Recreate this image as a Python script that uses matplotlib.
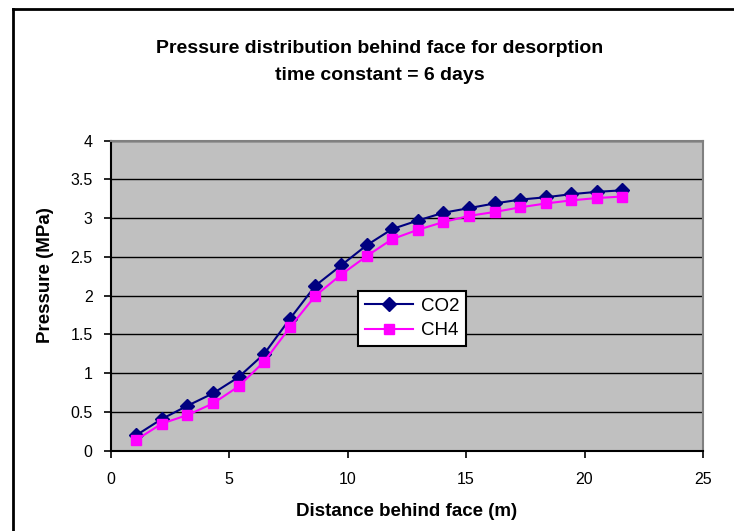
import matplotlib
matplotlib.use("Agg")
import matplotlib.pyplot as plt
from matplotlib.lines import Line2D

plt.rcParams["font.family"] = ["Liberation Sans", "DejaVu Sans"]

# distance behind face (m)
distance = [1.08, 2.16, 3.24, 4.32, 5.40, 6.48, 7.56, 8.64, 9.72, 10.80,
            11.88, 12.96, 14.04, 15.12, 16.20, 17.28, 18.36, 19.44, 20.52, 21.60]
# pressure (MPa)
co2 = [0.20, 0.41, 0.58, 0.74, 0.95, 1.25, 1.70, 2.13, 2.39, 2.65,
       2.86, 2.97, 3.07, 3.13, 3.19, 3.24, 3.27, 3.31, 3.34, 3.36]
ch4 = [0.14, 0.35, 0.46, 0.61, 0.83, 1.15, 1.59, 2.00, 2.27, 2.51,
       2.73, 2.85, 2.95, 3.03, 3.08, 3.14, 3.19, 3.23, 3.26, 3.28]

W, H = 734, 531
fig = plt.figure(figsize=(W / 100, H / 100), dpi=100)

# outer chart border (only left and top visible, cut off at right/bottom)
fig.add_artist(Line2D([13 / W, 13 / W], [0, 1 - 9 / H], transform=fig.transFigure,
                      color="black", lw=2))
fig.add_artist(Line2D([13 / W, 1], [1 - 9 / H, 1 - 9 / H], transform=fig.transFigure,
                      color="black", lw=2))

left, right, top, bottom = 110.7, 703, 140.7, 450.7
ax = fig.add_axes([left / W, 1 - bottom / H, (right - left) / W, (bottom - top) / H])
ax.set_facecolor("#C0C0C0")

ax.plot(distance, co2, color="#000080", lw=1.5, marker="D", ms=7.5,
        mfc="#000080", mec="#000080", label="CO2", zorder=3)
ax.plot(distance, ch4, color="#FF00FF", lw=1.5, marker="s", ms=7.5,
        mfc="#FF00FF", mec="#FF00FF", label="CH4", zorder=3)

ax.set_xlim(0, 25)
ax.set_ylim(0, 4)
ax.set_xticks([0, 5, 10, 15, 20, 25])
ax.set_yticks([0, 0.5, 1, 1.5, 2, 2.5, 3, 3.5, 4])
ax.set_yticklabels(["0", "0.5", "1", "1.5", "2", "2.5", "3", "3.5", "4"])
ax.yaxis.grid(True, color="black", lw=1)
ax.set_axisbelow(True)
ax.tick_params(direction="out", length=5, width=1.2, labelsize=11.5, color="black")
ax.tick_params(axis="y", pad=8)
ax.tick_params(axis="x", pad=10)

for s in ["top", "right"]:
    ax.spines[s].set_color("#808080")
    ax.spines[s].set_linewidth(1.5)
for s in ["left", "bottom"]:
    ax.spines[s].set_color("black")
    ax.spines[s].set_linewidth(1.5)

fig.text((left + right) / 2 / W, 1 - 512 / H, "Distance behind face (m)",
         ha="center", va="center", fontsize=13.5, fontweight="bold")
fig.text(46 / W, 1 - 275 / H, "Pressure (MPa)", rotation=90,
         ha="center", va="center", fontsize=13.5, fontweight="bold")

title_x = 380 / W
fig.text(title_x, 1 - 48 / H, "Pressure distribution behind face for desorption",
         ha="center", va="center", fontsize=14, fontweight="bold")
fig.text(title_x, 1 - 76 / H, "time constant = 6 days",
         ha="center", va="center", fontsize=14, fontweight="bold")

leg = ax.legend(loc="upper left", bbox_to_anchor=((358 - left) / (right - left),
                                                  (bottom - 291) / (bottom - top)),
                borderaxespad=0, fancybox=False, framealpha=1, edgecolor="black",
                fontsize=13.5, handlelength=2.6, handletextpad=0.4,
                labelspacing=0.4, borderpad=0.35)
leg.get_frame().set_linewidth(1.5)

fig.savefig("out.png", dpi=100)
